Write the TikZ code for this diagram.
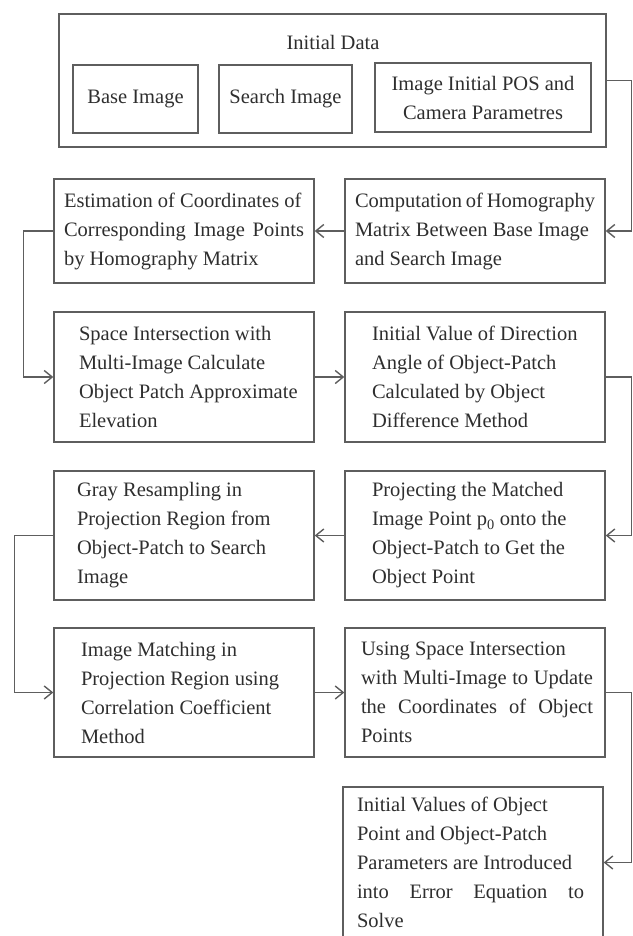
\documentclass[tikz,border=0pt]{standalone}
\usepackage{fontspec}
\setmainfont{Liberation Serif}
\usetikzlibrary{arrows.meta}
\definecolor{boxline}{HTML}{5E5E5E}
\definecolor{boxtext}{HTML}{2E2E2E}
\newcommand{\figurescale}{1pt}
\newcommand{\makestep}[7]{
	\node (#1) [stepbox, minimum height=#4pt] at (#2,#3)
		{\parshape 1 #5pt \dimexpr 240pt-#5pt-#6pt\relax #7\par};
}

\begin{document}
\begin{tikzpicture}[x=\figurescale,y=-\figurescale,
	font=\fontsize{20.5}{29}\selectfont,
	stepbox/.style={draw=boxline, line width=1.4pt, text=boxtext, text width=240pt, inner xsep=10pt, inner ysep=0pt, align=justify},
	databox/.style={draw=boxline, line width=1.4pt, text=boxtext, align=center, inner sep=0pt},
	flow/.style={draw=boxline, line width=1.4pt, -{Straight Barb[length=8pt,width=13pt]}}]
	\useasboundingbox (0,0) rectangle (632,936);

	\node (data) [databox, minimum width=547pt, minimum height=133pt] at (332.5,80.5) {};
	\node (title) [text=boxtext] at (333,42) {Initial Data};
	\node (base) [databox, minimum width=125pt, minimum height=68pt] at (135.5,99) {Base Image};
	\node (search) [databox, minimum width=133pt, minimum height=68pt] at (285.5,99) {Search Image};
	\node (pos) [databox, minimum width=216pt, minimum height=69pt] at (483,97.5) {Image Initial POS and\\Camera Parametres};

	\makestep{homography}{475}{231}{104}{0}{0}{Computation of Homography\linebreak Matrix Between Base Image\newline and Search Image}
	\makestep{estimate}{184}{231}{104}{0}{0}{Estimation of Coordinates of\newline Corresponding Image Points\linebreak by Homography Matrix}
	\makestep{intersect}{184}{377}{130}{15}{0}{Space Intersection with\newline Multi-Image Calculate\newline Object Patch Approximate\newline Elevation}
	\makestep{direction}{475}{377}{130}{17}{0}{Initial Value of Direction\newline Angle of Object-Patch\newline Calculated by Object\newline Difference Method}
	\makestep{project}{475}{535.5}{129}{17}{0}{Projecting the Matched\newline Image Point p\textsubscript{0} onto the\newline Object-Patch to Get the\newline Object Point}
	\makestep{resample}{184}{535.5}{129}{13}{0}{Gray Resampling in\newline Projection Region from\newline Object-Patch to Search\newline Image}
	\makestep{matching}{184}{692.5}{129}{17}{0}{Image Matching in\newline Projection Region using\newline Correlation Coefficient\newline Method}
	\makestep{update}{475}{692.5}{129}{6}{2}{Using Space Intersection\newline with Multi-Image to Update\linebreak the Coordinates of Object\linebreak Points}
	\makestep{solve}{473}{862.5}{151}{4}{9}{Initial Values of Object\newline Point and Object-Patch\newline Parameters are Introduced\newline into Error Equation to\linebreak Solve}

	\draw[flow] (data.east) -- ++(25,0) |- (homography.east);
	\draw[flow] (homography.west) -- (estimate.east);
	\draw[flow] (estimate.west) -- ++(-30,0) |- (intersect.west);
	\draw[flow] (intersect.east) -- (direction.west);
	\draw[flow] (direction.east) -- ++(26,0) |- (project.east);
	\draw[flow] (project.west) -- (resample.east);
	\draw[flow] (resample.west) -- ++(-39,0) |- (matching.west);
	\draw[flow] (matching.east) -- (update.west);
	\draw[flow] (update.east) -- ++(26,0) |- (solve.east);
\end{tikzpicture}
\end{document}
